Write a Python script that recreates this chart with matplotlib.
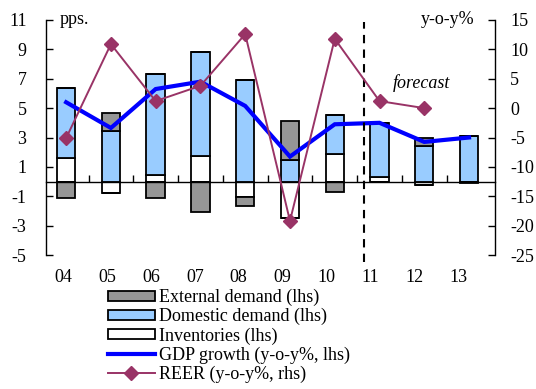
import matplotlib
matplotlib.use('Agg')
import matplotlib.pyplot as plt
import numpy as np
from matplotlib.lines import Line2D
from matplotlib.patches import Patch
import matplotlib.transforms as mtransforms

plt.rcParams['font.family'] = ['Liberation Serif', 'DejaVu Serif']
plt.rcParams['axes.unicode_minus'] = False

years = ['04', '05', '06', '07', '08', '09', '10', '11', '12', '13']
external = [-1.1, 1.2, -1.1, -2.1, -0.6, 2.65, -0.7, 0.0, 0.6, -0.1]
domestic = [4.8, 3.45, 6.9, 7.1, 6.9, 1.45, 2.65, 3.7, 2.4, 3.1]
inventories = [1.6, -0.8, 0.45, 1.75, -1.05, -2.45, 1.9, 0.3, -0.25, 0.0]
gdp = [5.4, 3.65, 6.3, 6.8, 5.15, 1.7, 3.9, 4.0, 2.7, 3.0]
reer = [-5.1, 10.9, 1.2, 3.8, 12.6, -19.2, 11.8, 1.2, 0.0]

left_ticks = [-5, -3, -1, 1, 3, 5, 7, 9, 11]
right_ticks = [-25, -20, -15, -10, -5, 0, 5, 10, 15]

FS = 13
W, H = 536, 389
fig = plt.figure(figsize=(W / 100, H / 100), dpi=100)
ax = fig.add_axes([46 / W, 1 - 255 / H, 449 / W, 235 / H])
ax2 = ax.twinx()

x = np.arange(len(years))
bw = 0.41
series = [
    (inventories, 'white', 'Inventories (lhs)'),
    (domestic, '#99ccff', 'Domestic demand (lhs)'),
    (external, '#969696', 'External demand (lhs)'),
]
pos_bottom = np.zeros(len(years))
neg_bottom = np.zeros(len(years))
for vals, col, lab in series:
    v = np.array(vals, dtype=float)
    pos = np.where(v > 0, v, 0)
    neg = np.where(v < 0, v, 0)
    ax.bar(x, pos, bw, bottom=pos_bottom, color=col, edgecolor='black', linewidth=1.3, zorder=2)
    ax.bar(x, neg, bw, bottom=neg_bottom, color=col, edgecolor='black', linewidth=1.3, zorder=2)
    pos_bottom += pos
    neg_bottom += neg

ax.plot(x, gdp, color='#0000ff', lw=3, zorder=4, solid_joinstyle='miter')
ax2.plot(x[:len(reer)], reer, color='#993366', lw=1.4, marker='D', ms=7, zorder=5)

ax.set_xlim(-0.45, 9.58)
ax.set_ylim(-5, 11)
ax2.set_ylim(-25, 15)

for s in ['top', 'right']:
    ax.spines[s].set_visible(False)
ax.spines['bottom'].set_position(('data', 0))
ax.spines['bottom'].set_linewidth(1.0)
ax.spines['left'].set_linewidth(1.0)
for s in ['top', 'left', 'bottom']:
    ax2.spines[s].set_visible(False)
ax2.spines['right'].set_linewidth(1.0)

ax.set_xticks(np.arange(0.5, len(years) - 1, 1.0))
ax.set_xticklabels([])
ax.tick_params(axis='x', direction='in', length=5, width=1)
ax.set_yticks(left_ticks)
ax.tick_params(axis='y', direction='in', length=5, width=1, labelsize=FS, pad=14)
ax2.set_yticks(right_ticks)
ax2.tick_params(axis='y', direction='in', length=5, width=1, labelsize=FS, pad=11)

trans = mtransforms.blended_transform_factory(ax.transData, ax.transAxes)
for i, yl in enumerate(years):
    ax.text(-0.067 + 0.98 * i, -0.097, yl, transform=trans, ha='center', va='center', fontsize=FS)

ax.axvline(6.65, ymin=-0.03, ymax=0.99, color='black', lw=1.5, ls=(0, (4, 3)), clip_on=False, zorder=6)
ax.text(7.94, 6.7, 'forecast', style='italic', ha='center', va='center', fontsize=FS, zorder=7)
ax.text(0.031, 1.0, 'pps.', transform=ax.transAxes, ha='left', va='center', fontsize=FS)
ax.text(0.955, 1.0, 'y-o-y%', transform=ax.transAxes, ha='right', va='center', fontsize=FS)

handles = [
    Patch(facecolor='#969696', edgecolor='black', linewidth=1.3),
    Patch(facecolor='#99ccff', edgecolor='black', linewidth=1.3),
    Patch(facecolor='white', edgecolor='black', linewidth=1.3),
    Line2D([], [], color='#0000ff', lw=3),
    Line2D([], [], color='#993366', lw=1.4, marker='D', ms=7),
]
labels = ['External demand (lhs)', 'Domestic demand (lhs)', 'Inventories (lhs)',
          'GDP growth (y-o-y%, lhs)', 'REER (y-o-y%, rhs)']
fig.legend(handles, labels, loc='upper left', bbox_to_anchor=(108 / W, 1 - 289 / H),
           frameon=False, fontsize=FS, borderpad=0, borderaxespad=0,
           handlelength=2.6, handleheight=0.5, handletextpad=0.25, labelspacing=0.1)

fig.savefig('out.png', dpi=100)
